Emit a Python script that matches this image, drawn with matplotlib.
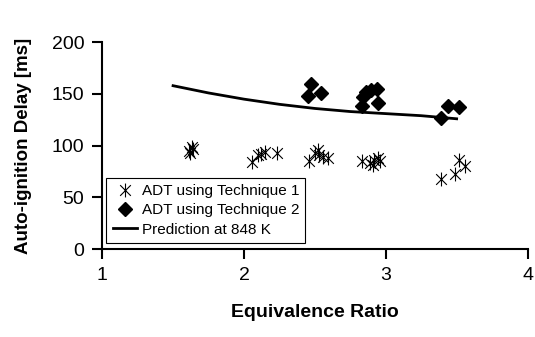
import numpy as np
import matplotlib
matplotlib.use("Agg")
import matplotlib.pyplot as plt
from matplotlib.path import Path

plt.rcParams['font.family'] = ['Liberation Sans', 'DejaVu Sans']

# technique 1 (stars)
t1_phi = [1.61, 1.62, 1.63, 1.64, 2.06, 2.10, 2.12, 2.145, 2.23,
          2.46, 2.50, 2.52, 2.53, 2.56, 2.59,
          2.83, 2.886, 2.91, 2.92, 2.945, 2.957,
          3.39, 3.49, 3.52, 3.56]
t1_delay = [95, 93, 99, 97, 84, 91, 92, 94, 93,
            85, 93, 96, 91, 89, 88,
            85, 83, 81, 86, 88, 85,
            68, 73, 86, 80]

# technique 2 (diamonds)
t2_phi = [2.45, 2.475, 2.54, 2.83, 2.84, 2.863, 2.898, 2.94, 2.945, 3.39, 3.44, 3.52]
t2_delay = [148, 160, 151, 138, 147, 152, 154, 155, 141, 127, 138, 137]

# prediction at 848 K
pred_phi = [1.5, 1.75, 2.0, 2.25, 2.5, 2.75, 3.0, 3.25, 3.5]
pred_delay = [158, 151, 145, 140, 136, 133, 131, 129, 126]

# excel-style star: X plus vertical bar
star = Path([(-1, -1), (1, 1), (-1, 1), (1, -1), (0, -1.3), (0, 1.3)],
            [Path.MOVETO, Path.LINETO, Path.MOVETO, Path.LINETO, Path.MOVETO, Path.LINETO])

fig = plt.figure(figsize=(5.35, 3.37), dpi=100)
ax = fig.add_axes([0.191, 0.261, 0.795, 0.6135])

ax.plot(t1_phi, t1_delay, linestyle='none', marker=star, markersize=10,
        markeredgewidth=0.8, color='black', label='ADT using Technique 1')
ax.plot(t2_phi, t2_delay, linestyle='none', marker='D', markersize=7,
        color='black', label='ADT using Technique 2')
ax.plot(pred_phi, pred_delay, color='black', linewidth=2, label='Prediction at 848 K')

ax.set_xlim(1, 4)
ax.set_ylim(0, 200)
ax.set_xticks([1, 2, 3, 4])
ax.set_yticks([0, 50, 100, 150, 200])
ax.tick_params(labelsize=14, width=1.5, length=7, direction='out', pad=6)
for s in ['top', 'right']:
    ax.spines[s].set_visible(False)
for s in ['left', 'bottom']:
    ax.spines[s].set_linewidth(1.5)

ax.set_xlabel('Equivalence Ratio', fontsize=14, fontweight='bold', labelpad=14)
ax.set_ylabel('Auto-ignition Delay [ms]', fontsize=13.5, fontweight='bold', labelpad=14)

leg = ax.legend(loc='lower left', bbox_to_anchor=(0.01, 0.03), fontsize=11,
                frameon=True, fancybox=False, edgecolor='black', framealpha=1,
                borderpad=0.4, labelspacing=0.35, handlelength=1.6,
                handletextpad=0.3, borderaxespad=0)
leg.get_frame().set_linewidth(0.8)

fig.savefig('out.png', dpi=100)
